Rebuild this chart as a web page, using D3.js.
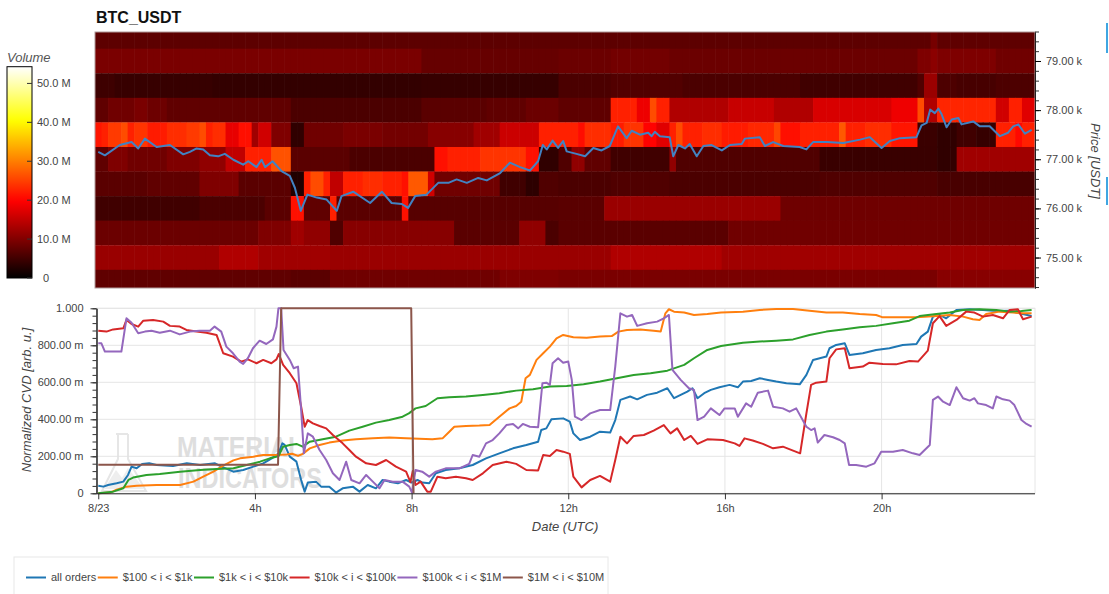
<!DOCTYPE html>
<html><head><meta charset="utf-8">
<script src="https://cdn.jsdelivr.net/npm/d3@7"></script>
<style>
body{margin:0;background:#fff;}
svg text{font-family:"Liberation Sans",Arial,Helvetica,sans-serif;}
</style></head><body>
<svg id="chart" width="1109" height="594"></svg>
<script>
// ---------------- DATA ----------------
const chartTitle = "BTC_USDT";
const priceBinCenters = [79.5, 79.0, 78.5, 78.0, 77.5, 77.0, 76.5, 76.0, 75.5, 75.0, 74.5];
const priceTicks = [75, 76, 77, 78, 79];
const priceTickLabels = ["75.00 k", "76.00 k", "77.00 k", "78.00 k", "79.00 k"];
const volumeTicks = [0, 10, 20, 30, 40, 50];
const volumeTickLabels = ["0", "10.0 M", "20.0 M", "30.0 M", "40.0 M", "50.0 M"];
const xTicks = [0, 4, 8, 12, 16, 20];
const xTickLabels = ["8/23", "4h", "8h", "12h", "16h", "20h"];
const cvdTicks = [0, 0.2, 0.4, 0.6, 0.8, 1.0];
const cvdTickLabels = ["0", "200.00 m", "400.00 m", "600.00 m", "800.00 m", "1.000"];
const seriesNames = ["all orders", "$100 < i < $1k", "$1k < i < $10k", "$10k < i < $100k", "$100k < i < $1M", "$1M < i < $10M"];

// heatmap volume (M) per price bin, as runs [start hour, volume]
const vol79500 = [[0,7.2],[21.25,9.2],[21.45,7.4]];
const vol79000 = [[0,9.5],[8.25,7.9],[11.8,8.3],[13.1,8.9],[14.6,8.3],[20.95,9.8],[21.25,10.8],[21.42,9.8],[22.95,8.7]];
const vol78500 = [[0,4.8],[0.5,4.3],[3.0,4.0],[8.3,4.2],[11.8,5.8],[13.1,6.4],[15.0,5.8],[17.9,5.0],[20.95,6.2],[21.1,12.0],[21.45,6.0],[21.9,5.5],[22.9,6.0]];
const vol78000 = [[0,7.5],[0.3,8.7],[0.9,9.5],[1.2,8.5],[1.75,7.5],[4.9,5.8],[8.3,7.0],[10.0,7.5],[10.85,8.3],[11.8,7.4],[13.07,22.4],[13.75,18.5],[14.1,26.0],[14.27,22.4],[14.6,13.7],[16.05,15.5],[17.25,13.7],[18.25,16.8],[20.3,18.6],[20.95,26.0],[21.1,13.7],[21.45,22.8],[22.95,16.2],[23.3,22.4],[23.62,17.4]];
const vol77500 = [[0,21.5],[0.05,22.4],[0.3,24.5],[0.6,26.0],[0.72,22.4],[1.0,24.0],[1.3,22.0],[1.75,23.5],[2.2,24.5],[2.6,26.0],[2.77,22.4],[3.0,23.5],[3.28,18.0],[3.6,21.0],[3.87,12.4],[4.13,16.2],[4.43,9.9],[4.9,3.7],[5.23,8.7],[6.3,9.5],[7.3,8.9],[8.38,10.5],[9.57,12.4],[10.26,15.8],[11.23,22.4],[12.2,20.8],[12.45,23.5],[13.07,22.0],[13.4,24.0],[13.9,20.0],[14.26,17.4],[14.6,22.4],[14.77,26.0],[14.9,22.4],[15.5,23.5],[16.0,22.0],[16.6,23.0],[17.24,25.5],[17.4,21.0],[18.0,22.4],[18.94,27.0],[19.07,22.4],[19.6,23.5],[20.3,21.5],[20.95,4.5],[21.45,3.7],[22.0,5.0],[22.4,4.2],[22.94,22.4],[23.4,20.5],[23.6,22.4]];
const vol77000 = [[0,7.5],[0.3,9.9],[0.72,8.7],[1.75,9.9],[2.6,11.2],[3.19,14.9],[3.7,22.4],[4.43,26.5],[4.89,7.0],[6.5,5.8],[8.55,21.1],[8.98,22.4],[9.75,24.0],[10.94,21.1],[11.23,3.7],[11.79,6.2],[12.05,11.2],[12.43,7.5],[13.07,5.0],[14.6,11.2],[14.73,6.2],[18.43,4.4],[21.41,3.7],[21.92,12.4]];
const vol76500 = [[0,7.0],[1.3,7.5],[2.6,9.9],[3.58,7.0],[4.98,2.5],[5.23,22.4],[5.4,26.0],[5.75,22.4],[5.92,14.9],[6.26,22.4],[6.8,23.5],[7.3,22.4],[7.79,21.1],[7.96,27.0],[8.38,16.2],[8.64,8.7],[10.26,5.0],[10.85,3.5],[11.23,6.2],[11.79,5.8],[13.07,6.2],[14.6,5.8],[18.4,6.2],[21.4,5.6]];
const vol76000 = [[0,5.0],[2.6,5.8],[4.2,7.0],[4.89,21.1],[5.23,7.5],[5.92,22.4],[6.13,7.0],[7.7,21.1],[7.96,6.8],[11.79,7.0],[12.94,12.0],[17.4,8.6]];
const vol75500 = [[0,8.3],[4.13,9.9],[4.89,12.4],[5.23,11.2],[5.92,6.2],[6.26,10.5],[9.15,7.0],[10.77,11.2],[11.45,5.8],[11.79,7.0],[16.05,8.7]];
const vol75000 = [[0,11.9],[3.02,13.7],[4.04,12.4],[5.92,12.0],[11.79,12.0],[13.07,13.7],[15.87,12.4]];
const vol74500 = [[0,7.5],[4.89,7.0],[5.92,8.7],[10.26,9.9],[11.79,9.5],[21.4,10.6]];

// price line [hour, price in k USDT]
const priceLine = [[0,77.15],[0.17,77.08],[0.55,77.29],[0.85,77.35],[1.02,77.22],[1.19,77.42],[1.49,77.25],[1.83,77.29],[2.17,77.10],[2.34,77.15],[2.51,77.22],[2.68,77.20],[2.85,77.08],[3.06,77.06],[3.23,77.11],[3.45,76.99],[3.70,76.89],[3.83,76.96],[4.04,76.84],[4.17,76.99],[4.26,76.84],[4.45,76.96],[4.68,76.76],[4.89,76.66],[5.02,76.42],[5.17,75.95],[5.34,76.28],[5.58,76.22],[5.83,76.18],[6.09,75.95],[6.21,76.25],[6.51,76.34],[6.94,76.11],[7.24,76.34],[7.49,76.11],[7.75,76.09],[7.91,76.01],[8.09,76.25],[8.38,76.28],[8.68,76.52],[8.94,76.52],[9.15,76.59],[9.41,76.52],[9.70,76.62],[9.92,76.57],[10.26,76.72],[10.51,76.93],[10.77,76.84],[11.02,76.77],[11.23,76.96],[11.35,77.29],[11.45,77.20],[11.60,77.38],[11.74,77.23],[11.87,77.37],[11.96,77.16],[12.21,77.11],[12.43,77.06],[12.64,77.23],[12.85,77.18],[13.06,77.27],[13.27,77.67],[13.49,77.43],[13.62,77.58],[13.83,77.50],[14.04,77.54],[14.13,77.47],[14.21,77.56],[14.34,77.47],[14.59,77.45],[14.68,77.06],[14.81,77.29],[14.98,77.22],[15.10,77.31],[15.28,77.06],[15.45,77.27],[15.66,77.29],[15.92,77.18],[16.13,77.29],[16.43,77.31],[16.51,77.42],[16.89,77.45],[17.02,77.27],[17.23,77.35],[17.49,77.27],[17.91,77.25],[18.08,77.20],[18.25,77.35],[18.60,77.35],[19.02,77.33],[19.45,77.40],[19.70,77.45],[20.00,77.23],[20.21,77.37],[20.47,77.43],[20.89,77.45],[21.02,77.69],[21.15,77.74],[21.24,78.01],[21.36,77.94],[21.45,78.03],[21.53,77.92],[21.66,77.65],[21.79,77.81],[21.96,77.84],[22.04,77.71],[22.34,77.77],[22.51,77.67],[22.76,77.67],[23.02,77.47],[23.23,77.54],[23.36,77.67],[23.49,77.71],[23.66,77.52],[23.83,77.60]];

// normalized CVD series [hour, value]
const cvdAll = [[0,0.041],[0.13,0.036],[0.25,0.045],[0.47,0.054],[0.64,0.063],[0.76,0.099],[0.85,0.144],[0.98,0.135],[1.12,0.158],[1.3,0.162],[1.49,0.153],[1.91,0.148],[2.26,0.162],[2.6,0.153],[2.98,0.162],[3.15,0.144],[3.45,0.117],[3.7,0.126],[3.96,0.144],[4.21,0.162],[4.43,0.189],[4.6,0.215],[4.7,0.27],[4.76,0.262],[4.89,0.198],[5.06,0.171],[5.18,0.072],[5.27,0.009],[5.35,0.058],[5.56,0.063],[5.69,0.036],[5.9,0.036],[6.07,0.004],[6.24,0.027],[6.5,0.036],[6.67,0.009],[6.88,0.045],[7.09,0.027],[7.26,0.072],[7.43,0.063],[7.65,0.054],[7.86,0.072],[8.0,0.058],[8.15,0.072],[8.27,0.058],[8.45,0.054],[8.62,0.108],[8.87,0.126],[9.22,0.135],[9.56,0.153],[9.9,0.189],[10.24,0.216],[10.59,0.243],[10.93,0.261],[11.23,0.279],[11.31,0.342],[11.44,0.351],[11.57,0.40],[11.87,0.405],[12.04,0.387],[12.13,0.324],[12.3,0.288],[12.56,0.306],[12.81,0.333],[13.07,0.328],[13.2,0.396],[13.33,0.505],[13.58,0.523],[13.76,0.508],[14.01,0.532],[14.27,0.544],[14.53,0.568],[14.7,0.514],[14.87,0.532],[15.04,0.55],[15.17,0.568],[15.3,0.514],[15.47,0.541],[15.64,0.559],[15.86,0.573],[16.12,0.586],[16.33,0.573],[16.46,0.604],[16.67,0.607],[16.89,0.622],[17.1,0.613],[17.31,0.604],[17.57,0.595],[17.91,0.589],[18.08,0.64],[18.25,0.721],[18.42,0.73],[18.59,0.739],[18.67,0.784],[18.84,0.802],[19.06,0.811],[19.18,0.748],[19.52,0.757],[19.86,0.775],[20.2,0.784],[20.54,0.802],[20.89,0.807],[21.01,0.847],[21.18,0.874],[21.31,0.955],[21.48,0.964],[21.65,0.946],[21.91,0.991],[22.25,0.995],[22.59,0.991],[22.93,0.986],[23.27,0.987],[23.52,0.973],[23.83,0.958]];
const cvd100to1k = [[0,0],[0.3,0.004],[0.47,0.02],[0.72,0.036],[0.98,0.041],[1.49,0.045],[2.09,0.045],[2.43,0.063],[2.68,0.09],[2.94,0.117],[3.19,0.15],[3.45,0.178],[3.62,0.189],[3.96,0.198],[4.21,0.207],[4.55,0.207],[4.81,0.21],[4.95,0.214],[5.1,0.202],[5.22,0.213],[5.4,0.243],[5.65,0.261],[5.9,0.274],[6.24,0.285],[6.58,0.292],[7.01,0.297],[7.43,0.301],[7.86,0.297],[8.19,0.295],[8.53,0.292],[8.79,0.297],[8.95,0.33],[9.09,0.36],[9.39,0.364],[9.73,0.366],[9.99,0.369],[10.24,0.414],[10.5,0.459],[10.67,0.472],[10.8,0.495],[10.91,0.622],[11.02,0.64],[11.19,0.721],[11.36,0.757],[11.53,0.793],[11.7,0.838],[11.87,0.856],[12.13,0.843],[12.47,0.841],[12.81,0.847],[13.11,0.85],[13.28,0.874],[13.5,0.883],[13.84,0.886],[14.18,0.879],[14.36,0.874],[14.48,0.973],[14.57,0.995],[14.7,0.982],[14.96,0.977],[15.21,0.964],[15.55,0.969],[15.9,0.977],[16.46,0.982],[16.89,0.991],[17.31,0.996],[17.74,0.996],[18.16,0.987],[18.59,0.977],[19.01,0.977],[19.44,0.969],[19.86,0.964],[20.03,0.951],[20.37,0.951],[20.89,0.951],[21.4,0.958],[21.74,0.964],[22.08,0.955],[22.33,0.941],[22.5,0.937],[22.67,0.969],[23.01,0.982],[23.35,0.977],[23.61,0.973],[23.83,0.973]];
const cvd1kto10k = [[0,0],[0.38,0.009],[0.64,0.027],[0.77,0.072],[0.89,0.085],[1.23,0.099],[1.57,0.104],[2.09,0.117],[2.6,0.126],[3.02,0.131],[3.45,0.135],[3.79,0.153],[4.13,0.171],[4.38,0.189],[4.6,0.2],[4.72,0.252],[4.89,0.261],[5.06,0.267],[5.22,0.252],[5.4,0.279],[5.73,0.292],[6.07,0.306],[6.41,0.339],[6.75,0.36],[7.09,0.382],[7.43,0.396],[7.77,0.414],[7.93,0.432],[8.1,0.459],[8.36,0.472],[8.66,0.514],[8.96,0.519],[9.39,0.523],[9.82,0.532],[10.24,0.541],[10.67,0.555],[11.1,0.562],[11.53,0.577],[11.96,0.58],[12.39,0.589],[12.81,0.604],[13.24,0.622],[13.67,0.64],[14.1,0.649],[14.53,0.663],[14.96,0.694],[15.21,0.73],[15.55,0.775],[15.9,0.796],[16.46,0.814],[16.89,0.82],[17.31,0.825],[17.74,0.832],[18.16,0.856],[18.59,0.874],[19.01,0.886],[19.44,0.897],[19.86,0.905],[20.29,0.919],[20.71,0.933],[20.97,0.958],[21.4,0.969],[21.74,0.977],[22.08,0.991],[22.5,0.995],[22.93,0.991],[23.27,0.982],[23.57,0.986],[23.83,0.991]];
const cvd10kto100k = [[0,0.879],[0.21,0.874],[0.38,0.886],[0.64,0.892],[0.72,0.937],[0.85,0.915],[1.02,0.901],[1.15,0.933],[1.4,0.937],[1.66,0.928],[1.83,0.905],[2.08,0.901],[2.25,0.883],[2.51,0.874],[2.76,0.868],[3.02,0.856],[3.19,0.757],[3.44,0.739],[3.65,0.712],[3.82,0.724],[4.04,0.703],[4.21,0.721],[4.42,0.703],[4.55,0.724],[4.61,0.753],[4.72,0.694],[4.89,0.649],[5.06,0.595],[5.18,0.468],[5.27,0.36],[5.35,0.396],[5.48,0.378],[5.65,0.364],[5.82,0.351],[5.99,0.315],[6.24,0.27],[6.41,0.234],[6.58,0.198],[6.84,0.162],[7.09,0.153],[7.35,0.18],[7.6,0.144],[7.86,0.117],[7.97,0.06],[8.03,0.12],[8.1,0.045],[8.23,0.063],[8.4,0.009],[8.49,0.009],[8.66,0.09],[8.87,0.081],[9.13,0.09],[9.39,0.081],[9.56,0.072],[9.82,0.108],[10.07,0.153],[10.42,0.171],[10.67,0.159],[10.93,0.126],[11.23,0.123],[11.36,0.207],[11.53,0.202],[11.7,0.234],[11.87,0.225],[12.04,0.213],[12.13,0.09],[12.34,0.032],[12.56,0.072],[12.81,0.094],[13.07,0.063],[13.2,0.18],[13.33,0.306],[13.5,0.27],[13.67,0.31],[13.93,0.315],[14.18,0.339],[14.44,0.369],[14.61,0.324],[14.78,0.351],[14.96,0.288],[15.13,0.31],[15.3,0.267],[15.55,0.292],[15.95,0.288],[16.25,0.27],[16.37,0.256],[16.5,0.297],[16.71,0.285],[16.97,0.267],[17.23,0.243],[17.48,0.252],[17.74,0.231],[17.92,0.216],[18.08,0.432],[18.2,0.586],[18.33,0.598],[18.59,0.604],[18.67,0.73],[18.84,0.778],[19.06,0.784],[19.18,0.676],[19.52,0.685],[19.69,0.706],[20.03,0.699],[20.37,0.697],[20.71,0.715],[20.93,0.712],[21.18,0.771],[21.31,0.919],[21.48,0.958],[21.65,0.905],[21.91,0.937],[22.16,0.982],[22.37,0.977],[22.59,0.955],[22.84,0.964],[23.1,0.946],[23.27,0.991],[23.48,0.995],[23.61,0.941],[23.83,0.955]];
const cvd100kto1M = [[0,0.811],[0.08,0.811],[0.17,0.766],[0.59,0.766],[0.72,0.946],[0.85,0.922],[1.02,0.865],[1.19,0.874],[1.36,0.879],[1.57,0.868],[1.83,0.879],[2.08,0.859],[2.34,0.874],[2.59,0.879],[2.85,0.879],[2.97,0.901],[3.14,0.874],[3.27,0.793],[3.44,0.757],[3.61,0.712],[3.7,0.699],[3.82,0.73],[3.95,0.784],[4.12,0.825],[4.29,0.807],[4.46,0.832],[4.55,0.901],[4.6,1.0],[4.67,1.0],[4.73,0.775],[4.89,0.721],[4.99,0.676],[5.1,0.685],[5.18,0.45],[5.25,0.216],[5.35,0.324],[5.48,0.306],[5.65,0.234],[5.82,0.18],[5.99,0.108],[6.16,0.072],[6.33,0.171],[6.46,0.072],[6.67,0.054],[6.84,0.099],[7.01,0.063],[7.18,0.027],[7.31,0.072],[7.52,0.063],[7.77,0.063],[7.94,0.036],[8.01,0.004],[8.1,0.126],[8.27,0.117],[8.45,0.09],[8.62,0.117],[8.87,0.135],[9.22,0.135],[9.47,0.159],[9.56,0.207],[9.73,0.198],[9.9,0.27],[10.07,0.288],[10.24,0.324],[10.42,0.369],[10.59,0.375],[10.72,0.351],[10.84,0.375],[11.02,0.36],[11.23,0.357],[11.34,0.595],[11.44,0.598],[11.53,0.586],[11.6,0.703],[11.74,0.73],[11.87,0.706],[12.0,0.712],[12.09,0.613],[12.17,0.414],[12.34,0.396],[12.56,0.432],[12.81,0.45],[13.07,0.45],[13.2,0.685],[13.33,0.973],[13.5,0.955],[13.63,0.964],[13.76,0.905],[14.01,0.919],[14.27,0.928],[14.44,0.946],[14.57,0.964],[14.66,0.667],[14.87,0.613],[15.08,0.568],[15.21,0.559],[15.3,0.396],[15.47,0.414],[15.64,0.459],[15.86,0.423],[15.99,0.459],[16.25,0.459],[16.33,0.414],[16.54,0.486],[16.67,0.468],[16.84,0.544],[17.1,0.555],[17.23,0.468],[17.48,0.459],[17.65,0.441],[17.82,0.459],[18.08,0.36],[18.2,0.342],[18.29,0.351],[18.37,0.274],[18.54,0.315],[18.76,0.303],[18.93,0.288],[19.06,0.27],[19.17,0.153],[19.35,0.153],[19.61,0.144],[19.82,0.162],[19.99,0.225],[20.29,0.225],[20.54,0.234],[20.8,0.216],[20.97,0.207],[21.1,0.234],[21.23,0.261],[21.31,0.505],[21.44,0.523],[21.57,0.495],[21.74,0.477],[21.91,0.573],[22.08,0.514],[22.25,0.501],[22.37,0.514],[22.46,0.486],[22.67,0.477],[22.84,0.459],[22.93,0.523],[23.1,0.508],[23.27,0.501],[23.39,0.477],[23.57,0.396],[23.7,0.375],[23.83,0.36]];
const cvd1Mto10M = [[0,0.155],[4.59,0.155],[4.67,1.0],[7.99,1.0],[8.05,0]];

// ---------------- BUILD ----------------
const seriesColors = ["#1f77b4","#ff7f0e","#2ca02c","#d62728","#9467bd","#8c564b"];
const seriesData = [cvdAll, cvd100to1k, cvd1kto10k, cvd10kto100k, cvd100kto1M, cvd1Mto10M];
const volRows = [vol79500, vol79000, vol78500, vol78000, vol77500, vol77000, vol76500, vol76000, vol75500, vol75000, vol74500];

const svg = d3.select("#chart");
const binHours = d3.range(144).map(k => k / 6);
function expandRuns(runs) {
  return binHours.map(t => { let v = runs[0][1]; for (const r of runs) if (r[0] <= t + 1e-6) v = r[1]; return v; });
}
function hotInterp(t) {
  const c = v => Math.min(1, Math.max(0, v));
  return d3.rgb(255 * c(t / 0.365), 255 * c((t - 0.365) / 0.381), 255 * c((t - 0.746) / 0.254)).toString();
}
const volMax = 54.3;
const color = d3.scaleSequential(hotInterp).domain([0, volMax]);

const x = d3.scaleLinear().domain([-1/12, 24 - 1/12]).range([95, 1035]);
const yPrice = d3.scaleLinear().domain([74.38, 79.59]).range([288, 32]);
const yCvd = d3.scaleLinear().domain([0, 1]).range([493.3, 308.3]);

// title
svg.append("text").attr("x", 96).attr("y", 22.5).attr("font-size", 16).attr("font-weight", "bold")
  .attr("fill", "#111").text(chartTitle);

// ---- heatmap ----
const defs = svg.append("defs");
defs.append("clipPath").attr("id", "topclip").append("rect").attr("x", 95).attr("y", 32).attr("width", 940).attr("height", 256);
const heat = svg.append("g").attr("clip-path", "url(#topclip)");
const cells = [];
volRows.forEach((runs, i) => {
  const vals = expandRuns(runs);
  vals.forEach((v, k) => cells.push({ c: priceBinCenters[i], t: binHours[k], v }));
});
const cw = x(1/6) - x(0);
heat.selectAll("rect.cell").data(cells).join("rect").attr("class", "cell")
  .attr("x", d => x(d.t - 1/12)).attr("width", cw + 0.6)
  .attr("y", d => yPrice(d.c + 0.25)).attr("height", d => yPrice(d.c - 0.25) - yPrice(d.c + 0.25) + 0.3)
  .attr("fill", d => color(d.v));
heat.append("path").datum(priceLine)
  .attr("d", d3.line().x(d => x(d[0])).y(d => yPrice(d[1])))
  .attr("fill", "none").attr("stroke", "#4282c2").attr("stroke-width", 2).attr("stroke-linejoin", "round");
svg.append("rect").attr("x", 95).attr("y", 32).attr("width", 940).attr("height", 256)
  .attr("fill", "none").attr("stroke", "#b09a9a").attr("stroke-width", 1);

// price axis
const pAxis = svg.append("g").attr("transform", "translate(1035,0)");
pAxis.call(d3.axisRight(yPrice).tickValues(d3.range(74.4, 79.61, 0.2)).tickSize(4).tickSizeOuter(0).tickFormat(""));
pAxis.call(g => g.selectAll(".tick line").attr("stroke", "#333"));
const pMajor = svg.append("g").attr("transform", "translate(1035,0)");
pMajor.call(d3.axisRight(yPrice).tickValues(priceTicks).tickSize(6).tickPadding(5).tickSizeOuter(0)
  .tickFormat((d, i) => priceTickLabels[i]));
pMajor.select(".domain").attr("stroke", "#222");
pMajor.selectAll(".tick text").attr("font-size", 11).attr("fill", "#444").attr("font-family", "Liberation Sans, Arial, sans-serif");
pAxis.select(".domain").attr("stroke", "#222");
svg.append("text").attr("transform", "translate(1091,161) rotate(90)").attr("text-anchor", "middle")
  .attr("font-size", 13).attr("font-style", "italic").attr("fill", "#444").text("Price [USDT]");
// side accent marks
svg.append("rect").attr("x", 1106).attr("y", 23).attr("width", 2).attr("height", 30).attr("fill", "#3fa6e2");
svg.append("rect").attr("x", 1106).attr("y", 177).attr("width", 2).attr("height", 28).attr("fill", "#3fa6e2");

// ---- color bar ----
const yBar = d3.scaleLinear().domain([0, volMax]).range([278, 66.7]);
const grad = defs.append("linearGradient").attr("id", "cbar").attr("x1", 0).attr("y1", 1).attr("x2", 0).attr("y2", 0);
d3.range(0, 1.0001, 0.02).forEach(f => grad.append("stop").attr("offset", f).attr("stop-color", color(f * volMax)));
svg.append("rect").attr("x", 7).attr("y", yBar(volMax)).attr("width", 25).attr("height", yBar(0) - yBar(volMax))
  .attr("fill", "url(#cbar)").attr("stroke", "#000").attr("stroke-width", 1);
svg.append("text").attr("x", 7).attr("y", 62).attr("font-size", 13).attr("font-style", "italic").attr("fill", "#555").text("Volume");
const cb = svg.append("g");
cb.selectAll("line").data(volumeTicks).join("line")
  .attr("x1", 27).attr("x2", 32).attr("y1", d => yBar(d)).attr("y2", d => yBar(d)).attr("stroke", "#333");
cb.selectAll("text").data(volumeTicks).join("text")
  .attr("x", (d, i) => i === 0 ? 43 : 37).attr("y", d => yBar(d) + 4)
  .attr("font-size", 11).attr("fill", "#444").text((d, i) => volumeTickLabels[i]);

// ---- bottom panel ----
const bot = svg.append("g");
bot.append("rect").attr("x", 96.5).attr("y", 308.3).attr("width", 938.5).attr("height", 185).attr("fill", "none").attr("stroke", "#e6e6e6");
bot.selectAll("line.hg").data(cvdTicks.slice(1)).join("line").attr("class", "hg")
  .attr("x1", 96.5).attr("x2", 1035).attr("y1", d => yCvd(d)).attr("y2", d => yCvd(d)).attr("stroke", "#e5e5e5");
bot.selectAll("line.vg").data(xTicks.slice(1)).join("line").attr("class", "vg")
  .attr("y1", 308.3).attr("y2", 493.3).attr("x1", d => x(d)).attr("x2", d => x(d)).attr("stroke", "#e5e5e5");

// watermark
const wm = bot.append("g").attr("opacity", 0.85);
wm.append("path").attr("d", "M116,434 L128,434 M118,434 L118,459 L102,491 L146,491 L128,459 L128,434")
  .attr("fill", "none").attr("stroke", "#e2e2e2").attr("stroke-width", 2);
wm.append("path").attr("d", "M104,489 L116,470 L122,478 L128,468 L144,489 Z").attr("fill", "#ececec");
wm.append("text").attr("x", 177).attr("y", 457).attr("font-size", 30).attr("font-weight", "bold")
  .attr("textLength", 126).attr("lengthAdjust", "spacingAndGlyphs").attr("fill", "#d9d9d9").text("MATERIAL");
wm.append("text").attr("x", 178).attr("y", 488).attr("font-size", 30).attr("font-weight", "bold")
  .attr("textLength", 144).attr("lengthAdjust", "spacingAndGlyphs").attr("fill", "#d9d9d9").text("INDICATORS");

// lines
const line = d3.line().x(d => x(d[0])).y(d => yCvd(d[1]));
bot.selectAll("path.cvd").data(seriesData).join("path").attr("class", "cvd")
  .attr("d", line).attr("fill", "none").attr("stroke", (d, i) => seriesColors[i])
  .attr("stroke-width", 2).attr("stroke-linejoin", "round");

// axes
const yAx = svg.append("g").attr("transform", "translate(96.5,0)");
yAx.call(d3.axisLeft(yCvd).tickValues(d3.range(0, 1.001, 0.04)).tickSize(4).tickSizeOuter(0).tickFormat(""));
const yAxM = svg.append("g").attr("transform", "translate(96.5,0)");
yAxM.call(d3.axisLeft(yCvd).tickValues(cvdTicks).tickSize(6).tickPadding(7).tickSizeOuter(0)
  .tickFormat((d, i) => cvdTickLabels[i]));
yAxM.selectAll(".tick text").attr("font-size", 11).attr("fill", "#444").attr("font-family", "Liberation Sans, Arial, sans-serif");
[yAx, yAxM].forEach(g => { g.select(".domain").attr("stroke", "#222"); g.selectAll(".tick line").attr("stroke", "#333"); });

const xAx = svg.append("g").attr("transform", "translate(0,493.3)");
xAx.call(d3.axisBottom(x).tickValues(xTicks).tickSize(6).tickPadding(5).tickSizeOuter(0)
  .tickFormat((d, i) => xTickLabels[i]));
xAx.select(".domain").attr("stroke", "#222").attr("d", "M96.5,0.5H1035");
xAx.selectAll(".tick line").attr("stroke", "#333");
xAx.selectAll(".tick text").attr("font-size", 11).attr("fill", "#444").attr("font-family", "Liberation Sans, Arial, sans-serif");

svg.append("text").attr("x", 565).attr("y", 531).attr("text-anchor", "middle").attr("font-size", 13)
  .attr("font-style", "italic").attr("fill", "#444").text("Date (UTC)");
svg.append("text").attr("transform", "translate(31,400) rotate(-90)").attr("text-anchor", "middle")
  .attr("font-size", 13).attr("font-style", "italic").attr("fill", "#444").text("Normalized CVD [arb. u.]");

// ---- legend ----
const leg = svg.append("g");
leg.append("rect").attr("x", 14).attr("y", 557).attr("width", 594).attr("height", 50)
  .attr("fill", "#fff").attr("stroke", "#e8e8e8");
let lx = 26;
seriesNames.forEach((name, i) => {
  leg.append("line").attr("x1", lx).attr("x2", lx + 20).attr("y1", 577.5).attr("y2", 577.5)
    .attr("stroke", seriesColors[i]).attr("stroke-width", 2);
  const t = leg.append("text").attr("x", lx + 25).attr("y", 581).attr("font-size", 11).attr("fill", "#444").text(name);
  lx += 25 + t.node().getComputedTextLength() + 1.5;
});
</script>
</body></html>
